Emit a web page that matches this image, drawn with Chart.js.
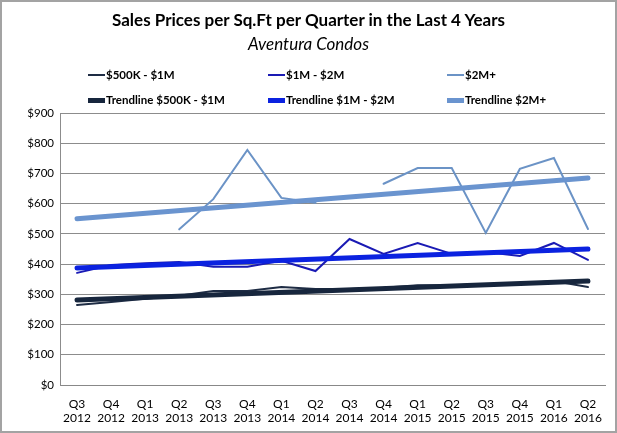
<!DOCTYPE html>
<html>
<head>
<meta charset="utf-8">
<script src="https://cdn.jsdelivr.net/npm/chart.js@4"></script>
<style>
  body { margin: 0; background: #fff; }
  #frame { position: relative; width: 617px; height: 433px; box-sizing: border-box; border: 2px solid #a3a3a3; background: #fff; font-family: Lato, "Open Sans", sans-serif; }
  #wrap { position: absolute; left: 0; top: 0; width: 613px; height: 429px; }
  .title { position: absolute; left: 0; width: 613px; text-align: center; top: 7px; font-size: 17px; font-weight: bold; color: #000; }
  .subtitle { position: absolute; left: 0; width: 613px; text-align: center; top: 31px; font-size: 17px; font-style: italic; color: #000; }
  .lg { position: absolute; font-size: 11.5px; font-weight: bold; color: #000; white-space: nowrap; line-height: 14px; }
  .lg i { display: inline-block; width: 17px; vertical-align: middle; margin-right: 1px; position: relative; top: -1px; }
</style>
</head>
<body>
<div id="frame">
  <div id="wrap"><canvas id="chart"></canvas></div>
  <div class="title">Sales Prices per Sq.Ft per Quarter in the Last 4 Years</div>
  <div class="subtitle">Aventura Condos</div>
  <div id="legend"></div>
</div>
<script>
// kvartallar
const quarters = [
  ['Q3', '2012'], ['Q4', '2012'], ['Q1', '2013'], ['Q2', '2013'],
  ['Q3', '2013'], ['Q4', '2013'], ['Q1', '2014'], ['Q2', '2014'],
  ['Q3', '2014'], ['Q4', '2014'], ['Q1', '2015'], ['Q2', '2015'],
  ['Q3', '2015'], ['Q4', '2015'], ['Q1', '2016'], ['Q2', '2016']
];

// seriyalar ($ / sq.ft)
const price500kTo1m = [265, 275, 285, 295, 311, 311, 324, 318, 318, 322, 330, 330, 333, 335, 344, 324];
const price1mTo2m   = [371, 397, 403, 407, 391, 391, 411, 377, 483, 434, 470, 434, 440, 427, 470, 414];
const price2mPlus   = [null, null, null, 515, 615, 778, 619, 603, null, 666, 718, 718, 503, 715, 751, 516];

// trend xetleri (yalniz baslangic ve son noqte oxunub)
const trend500kTo1m = [281, null, null, null, null, null, null, null, null, null, null, null, null, null, null, 344];
const trend1mTo2m   = [387, null, null, null, null, null, null, null, null, null, null, null, null, null, null, 450];
const trend2mPlus   = [550, null, null, null, null, null, null, null, null, null, null, null, null, null, null, 685];

const yTicks = [0, 100, 200, 300, 400, 500, 600, 700, 800, 900];

const legendItems = [
  { label: '$500K - $1M', color: '#1e2c44', width: 2, x: 86, y: 66 },
  { label: '$1M - $2M', color: '#1a1ab4', width: 2, x: 266, y: 66 },
  { label: '$2M+', color: '#6b93c6', width: 2, x: 445, y: 66 },
  { label: 'Trendline $500K - $1M', color: '#17263d', width: 5, x: 86, y: 91 },
  { label: 'Trendline $1M - $2M', color: '#0b22e0', width: 5, x: 266, y: 91 },
  { label: 'Trendline $2M+', color: '#6a94cf', width: 5, x: 445, y: 91 }
];

const legend = document.getElementById('legend');
legend.innerHTML = legendItems.map(it =>
  `<div class="lg" style="left:${it.x}px;top:${it.y}px"><i style="height:${it.width}px;background:${it.color}"></i>${it.label}</div>`
).join('');

const lineDs = (label, data, color, width, order, spanGaps) => ({
  label, data, borderColor: color, backgroundColor: color,
  borderWidth: width, pointRadius: 0, tension: 0, order, spanGaps,
  borderCapStyle: 'round'
});

new Chart(document.getElementById('chart').getContext('2d'), {
  type: 'line',
  data: {
    labels: quarters,
    datasets: [
      lineDs('Trendline $500K - $1M', trend500kTo1m, '#17263d', 5, 0, true),
      lineDs('Trendline $1M - $2M', trend1mTo2m, '#0b22e0', 5, 0, true),
      lineDs('Trendline $2M+', trend2mPlus, '#6a94cf', 5, 0, true),
      lineDs('$500K - $1M', price500kTo1m, '#1e2c44', 2, 1, false),
      lineDs('$1M - $2M', price1mTo2m, '#1a1ab4', 2, 1, false),
      lineDs('$2M+', price2mPlus, '#6b93c6', 2, 1, false)
    ]
  },
  options: {
    responsive: true,
    maintainAspectRatio: false,
    animation: false,
    layout: { padding: { top: 111, right: 10, left: 0, bottom: 0 } },
    plugins: {
      legend: { display: false },
      title: { display: false },
      tooltip: { enabled: false }
    },
    scales: {
      x: {
        offset: true,
        grid: { display: false, drawTicks: false },
        border: { display: true, color: '#888', width: 1 },
        ticks: {
          autoSkip: false, maxRotation: 0, minRotation: 0, padding: 12,
          color: '#000', font: { family: 'Lato', size: 12 }
        },
        afterFit: scale => { scale.height = 46; }
      },
      y: {
        min: 0, max: 900,
        afterBuildTicks: scale => { scale.ticks = yTicks.map(v => ({ value: v })); },
        grid: { color: '#8c8c8c', lineWidth: 1, drawTicks: false },
        border: { display: true, color: '#8c8c8c', width: 1 },
        ticks: {
          padding: 6, color: '#000', font: { family: 'Lato', size: 11.5 },
          callback: v => '$' + v
        },
        afterFit: scale => { scale.width = 58; }
      }
    }
  }
});
</script>
</body>
</html>
